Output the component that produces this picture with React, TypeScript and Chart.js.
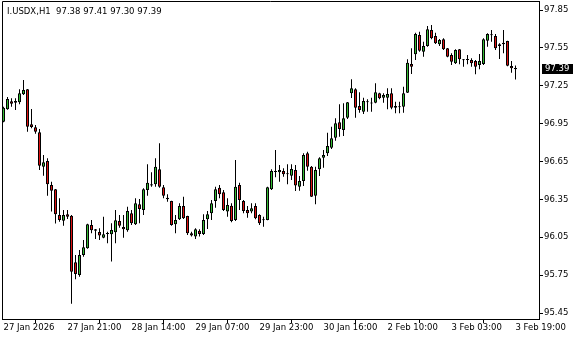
import { useEffect, useRef } from "react";
import { Chart, registerables } from "chart.js";

Chart.register(...registerables);

const SYMBOL = "I.USDX,H1";

const OPEN = [
  96.965, 97.064, 97.127, 97.116, 97.119, 97.182, 97.222, 96.945, 96.921, 96.881,
  96.609, 96.654, 96.464, 96.430, 96.226, 96.181, 96.232, 96.220, 95.852, 95.751,
  95.910, 95.963, 96.147, 96.113, 96.092, 96.047, 96.076, 96.074, 96.089, 96.179,
  96.131, 96.105, 96.240, 96.153, 96.311, 96.266, 96.424, 96.459, 96.470, 96.588,
  96.446, 96.363, 96.337, 96.153, 96.192, 96.298, 96.218, 96.082, 96.055, 96.102,
  96.076, 96.192, 96.240, 96.337, 96.443, 96.406, 96.253, 96.300, 96.187, 96.464,
  96.337, 96.266, 96.253, 96.298, 96.226, 96.185, 96.187, 96.430, 96.575, 96.565,
  96.575, 96.549, 96.538, 96.583, 96.451, 96.496, 96.715, 96.609, 96.379, 96.588,
  96.680, 96.715, 96.759, 96.839, 96.961, 96.900, 96.997, 97.190, 97.222, 97.090,
  97.045, 97.119, 97.110, 97.116, 97.190, 97.155, 97.155, 97.190, 97.090, 97.080,
  97.084, 97.195, 97.422, 97.499, 97.652, 97.520, 97.565, 97.692, 97.644, 97.578,
  97.618, 97.547, 97.494, 97.428, 97.539, 97.460, 97.453, 97.454, 97.446, 97.414,
  97.422, 97.607, 97.651, 97.644, 97.578, 97.578, 97.605, 97.406, 97.38,
];
const HIGH = [
  97.084, 97.161, 97.151, 97.151, 97.222, 97.296, 97.225, 97.066, 96.939, 96.908,
  96.702, 96.676, 96.490, 96.433, 96.359, 96.266, 96.266, 96.226, 95.910, 95.949,
  96.028, 96.156, 96.187, 96.116, 96.121, 96.213, 96.094, 96.161, 96.266, 96.226,
  96.226, 96.292, 96.266, 96.359, 96.353, 96.438, 96.628, 96.565, 96.676, 96.794,
  96.464, 96.390, 96.340, 96.226, 96.319, 96.371, 96.221, 96.094, 96.121, 96.113,
  96.232, 96.258, 96.345, 96.451, 96.464, 96.424, 96.359, 96.319, 96.662, 96.482,
  96.345, 96.298, 96.319, 96.319, 96.232, 96.213, 96.451, 96.588, 96.741, 96.622,
  96.596, 96.628, 96.628, 96.622, 96.535, 96.715, 96.728, 96.614, 96.609, 96.683,
  96.741, 96.878, 96.926, 96.992, 97.103, 97.111, 97.121, 97.301, 97.230, 97.198,
  97.155, 97.143, 97.155, 97.270, 97.195, 97.190, 97.230, 97.230, 97.124, 97.124,
  97.243, 97.460, 97.547, 97.670, 97.678, 97.599, 97.723, 97.731, 97.670, 97.620,
  97.626, 97.549, 97.507, 97.539, 97.541, 97.462, 97.494, 97.467, 97.454, 97.502,
  97.626, 97.666, 97.692, 97.660, 97.586, 97.692, 97.607, 97.446, 97.41,
];
const LOW = [
  96.961, 97.060, 97.084, 97.058, 97.103, 97.177, 96.886, 96.913, 96.870, 96.583,
  96.538, 96.379, 96.253, 96.158, 96.173, 96.142, 96.195, 95.524, 95.717, 95.738,
  95.896, 95.958, 96.082, 96.036, 96.028, 96.042, 96.002, 95.857, 96.002, 96.126,
  96.047, 96.094, 96.147, 96.147, 96.161, 96.226, 96.379, 96.451, 96.451, 96.443,
  96.359, 96.332, 96.142, 96.082, 96.187, 96.195, 96.068, 96.055, 96.036, 96.055,
  96.068, 96.116, 96.187, 96.284, 96.359, 96.258, 96.213, 96.169, 96.179, 96.266,
  96.240, 96.205, 96.240, 96.192, 96.147, 96.134, 96.185, 96.424, 96.525, 96.490,
  96.530, 96.470, 96.503, 96.417, 96.419, 96.456, 96.577, 96.369, 96.311, 96.535,
  96.601, 96.694, 96.749, 96.815, 96.847, 96.852, 96.987, 97.153, 96.997, 97.037,
  97.026, 97.045, 97.045, 97.111, 97.143, 97.116, 97.064, 97.064, 97.032, 97.032,
  97.037, 97.192, 97.343, 97.454, 97.520, 97.480, 97.559, 97.618, 97.581, 97.565,
  97.533, 97.475, 97.414, 97.422, 97.420, 97.401, 97.420, 97.401, 97.341, 97.380,
  97.414, 97.559, 97.599, 97.533, 97.461, 97.507, 97.405, 97.353, 97.30,
];
const CLOSE = [
  97.076, 97.145, 97.108, 97.129, 97.190, 97.216, 96.926, 96.923, 96.886, 96.617,
  96.644, 96.470, 96.419, 96.232, 96.187, 96.226, 96.213, 95.777, 95.759, 95.910,
  95.971, 96.153, 96.105, 96.102, 96.063, 96.074, 96.078, 96.108, 96.184, 96.142,
  96.113, 96.258, 96.161, 96.319, 96.274, 96.430, 96.482, 96.470, 96.609, 96.451,
  96.379, 96.351, 96.147, 96.187, 96.298, 96.200, 96.082, 96.063, 96.113, 96.076,
  96.187, 96.232, 96.319, 96.430, 96.390, 96.266, 96.306, 96.179, 96.451, 96.345,
  96.258, 96.240, 96.279, 96.200, 96.161, 96.188, 96.446, 96.575, 96.567, 96.583,
  96.549, 96.551, 96.591, 96.459, 96.496, 96.702, 96.609, 96.371, 96.583, 96.676,
  96.702, 96.773, 96.834, 96.953, 96.908, 96.992, 97.119, 97.230, 97.076, 97.058,
  97.129, 97.121, 97.112, 97.198, 97.151, 97.177, 97.185, 97.076, 97.076, 97.088,
  97.190, 97.433, 97.401, 97.660, 97.528, 97.565, 97.697, 97.626, 97.586, 97.612,
  97.539, 97.480, 97.441, 97.533, 97.460, 97.452, 97.455, 97.428, 97.401, 97.446,
  97.618, 97.660, 97.653, 97.547, 97.565, 97.591, 97.409, 97.388, 97.39,
];

const Y_TICKS = [97.85, 97.55, 97.25, 96.95, 96.65, 96.35, 96.05, 95.75, 95.45];
const X_TICK_BARS = [0, 16, 32, 48, 64, 80, 96, 112, 128];
const X_LABELS = [
  "27 Jan 2026",
  "27 Jan 21:00",
  "28 Jan 14:00",
  "29 Jan 07:00",
  "29 Jan 23:00",
  "30 Jan 16:00",
  "2 Feb 10:00",
  "3 Feb 03:00",
  "3 Feb 19:00",
];

const Y_MIN = 95.4025;
const Y_MAX = 97.9213;
const X_MIN = -0.375;
const X_MAX = 133.875;

const FONT = "DejaVu Sans";
const BULL = "#33bb33";
const BEAR = "#dd1111";

const overlayPlugin = {
  id: "mtOverlay",
  afterDraw(chart: any) {
    const { ctx, chartArea: a, scales } = chart;
    ctx.save();
    ctx.strokeStyle = "#000";
    ctx.lineWidth = 1;
    ctx.beginPath();
    ctx.moveTo(a.left + 0.5, a.bottom);
    ctx.lineTo(a.left + 0.5, a.top + 0.5);
    ctx.lineTo(a.right, a.top + 0.5);
    ctx.stroke();

    const last = CLOSE.length - 1;
    ctx.font = `8.5px "${FONT}"`;
    ctx.fillStyle = "#000";
    ctx.textBaseline = "alphabetic";
    ctx.textAlign = "left";
    const hdr = `${SYMBOL}  ${OPEN[last].toFixed(2)} ${HIGH[last].toFixed(2)} ${LOW[last].toFixed(2)} ${CLOSE[last].toFixed(2)}`;
    ctx.fillText(hdr, a.left + 5, a.top + 12.5);

    const py = Math.round(scales.y.getPixelForValue(CLOSE[last]));
    ctx.fillStyle = "#000";
    ctx.fillRect(a.right + 3, py - 4, 31, 10);
    ctx.fillStyle = "#fff";
    ctx.textBaseline = "middle";
    ctx.fillText(CLOSE[last].toFixed(2), a.right + 6, py + 1);
    ctx.restore();
  },
};

export default function App() {
  const ref = useRef<HTMLCanvasElement | null>(null);

  useEffect(() => {
    if (!ref.current) return;
    const wicks = OPEN.map((_, i) => ({ x: i, y: [LOW[i], HIGH[i]] }));
    const bodies = OPEN.map((o, i) => ({ x: i, y: [o, CLOSE[i]] }));
    const colors = OPEN.map((o, i) => (CLOSE[i] >= o ? BULL : BEAR));

    const chart = new Chart(ref.current, {
      type: "bar",
      data: {
        datasets: [
          {
            label: "body",
            data: bodies as any,
            backgroundColor: colors,
            borderColor: "#000",
            borderWidth: 1,
            borderSkipped: false,
            grouped: false,
            barPercentage: 0.75,
            categoryPercentage: 1,
            minBarLength: 1,
            order: 1,
          } as any,
          {
            label: "wick",
            data: wicks as any,
            backgroundColor: "#000",
            borderWidth: 0,
            grouped: false,
            barPercentage: 0.25,
            categoryPercentage: 1,
            order: 2,
          } as any,
        ],
      },
      options: {
        responsive: false,
        animation: false,
        events: [],
        layout: { padding: { left: 2, top: 1, right: 0, bottom: 0 } },
        plugins: {
          legend: { display: false },
          tooltip: { enabled: false },
          title: { display: false },
        },
        scales: {
          x: {
            type: "linear",
            position: "bottom",
            min: X_MIN,
            max: X_MAX,
            offset: false,
            border: { display: true, color: "#000", width: 1 },
            grid: {
              display: true,
              drawOnChartArea: false,
              drawTicks: true,
              tickLength: 4,
              color: "#000",
            },
            ticks: {
              autoSkip: false,
              maxRotation: 0,
              minRotation: 0,
              align: "start",
              padding: 0,
              color: "#000",
              font: { family: FONT, size: 8.5 },
              callback: (_v: any, idx: number) => X_LABELS[idx],
            },
            afterBuildTicks: (s: any) => {
              s.ticks = X_TICK_BARS.map((v) => ({ value: v }));
            },
            afterFit: (s: any) => {
              s.height = 21;
              s.paddingLeft = 0;
              s.paddingRight = 0;
            },
          } as any,
          y: {
            type: "linear",
            position: "right",
            min: Y_MIN,
            max: Y_MAX,
            border: { display: true, color: "#000", width: 1 },
            grid: {
              display: true,
              drawOnChartArea: false,
              drawTicks: true,
              tickLength: 4,
              color: "#000",
            },
            ticks: {
              padding: 1,
              color: "#000",
              font: { family: FONT, size: 8.5 },
              callback: (v: any) => Number(v).toFixed(2),
            },
            afterBuildTicks: (s: any) => {
              s.ticks = Y_TICKS.map((v) => ({ value: v }));
            },
            afterFit: (s: any) => {
              s.width = 41;
              s.paddingTop = 0;
              s.paddingBottom = 0;
            },
          } as any,
        },
      },
      plugins: [overlayPlugin],
    });
    return () => chart.destroy();
  }, []);

  return (
    <div
      style={{
        position: "absolute",
        left: 0,
        top: 0,
        width: 580,
        height: 340,
        background: "#fff",
      }}
    >
      <canvas ref={ref} width={580} height={340} style={{ display: "block" }} />
    </div>
  );
}
